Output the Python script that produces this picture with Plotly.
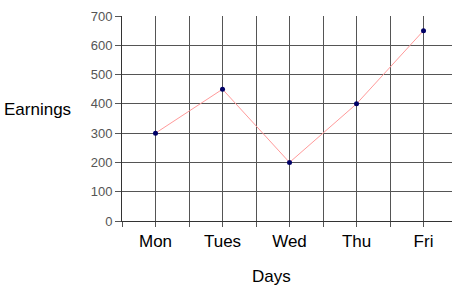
import plotly.graph_objects as go

days = ["Mon", "Tues", "Wed", "Thu", "Fri"]
earnings = [300, 450, 200, 400, 650]
y_ticks = [0, 100, 200, 300, 400, 500, 600, 700]

# categories sit on every second vertical gridline
xpos = [2 * i + 1 for i in range(len(days))]
grid_vals = list(range(0, 10))
grid_text = []
for v in grid_vals:
    if v in xpos:
        grid_text.append(days[xpos.index(v)])
    else:
        grid_text.append("")

fig = go.Figure()
fig.add_trace(go.Scatter(
    x=xpos, y=earnings, mode="lines+markers",
    line=dict(color="#ff9a9a", width=1),
    marker=dict(color="#000066", size=5),
    hoverinfo="skip", showlegend=False,
))

pw = 461 - 122 - 9
ph = 293 - 13 - 72

fig.update_layout(
    width=461, height=293,
    margin=dict(l=122, r=9, t=13, b=72),
    paper_bgcolor="white", plot_bgcolor="white",
    font=dict(family="Liberation Sans, Arial, sans-serif", color="black"),
    xaxis=dict(
        range=[0, 9.85], tickmode="array", tickvals=grid_vals, ticktext=grid_text,
        showgrid=True, gridcolor="#555555", gridwidth=1,
        ticks="outside", ticklen=5, tickcolor="#555555",
        showline=True, linecolor="#333333", linewidth=1,
        tickfont=dict(size=17, color="black"), zeroline=False,
    ),
    yaxis=dict(
        range=[0, 700], tickmode="array", tickvals=y_ticks,
        showgrid=True, gridcolor="#555555", gridwidth=1,
        ticks="outside", ticklen=6, tickcolor="#555555",
        showline=True, linecolor="#333333", linewidth=1,
        tickfont=dict(size=13, color="#555555"), zeroline=False,
    ),
    annotations=[
        dict(text="Earnings", x=(2 - 122) / pw, y=(293 - 72 - 108) / ph,
             xref="paper", yref="paper",
             xanchor="left", yanchor="middle", showarrow=False,
             font=dict(size=17, color="black")),
        dict(text="Days", x=(271 - 122) / pw, y=(293 - 72 - 277) / ph,
             xref="paper", yref="paper",
             xanchor="center", yanchor="middle", showarrow=False,
             font=dict(size=17, color="black")),
    ],
)

fig.write_html("out.html")
